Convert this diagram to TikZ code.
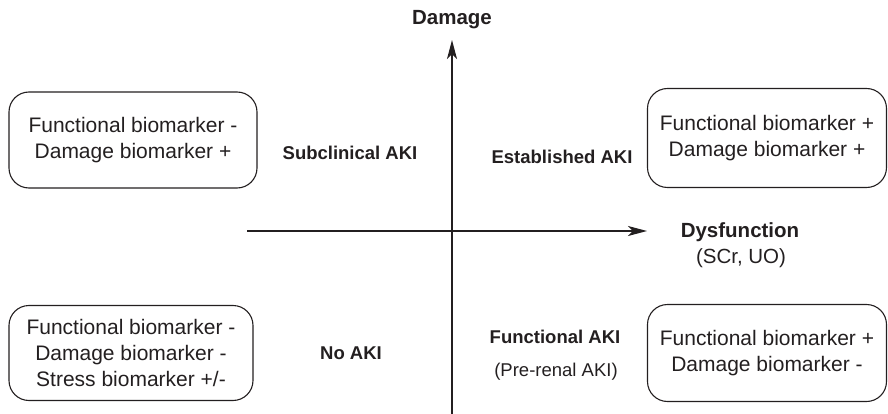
\documentclass[tikz,border=0pt]{standalone}
\usepackage{fontspec}
\setmainfont{Liberation Sans}
\usetikzlibrary{positioning,arrows.meta,calc}
\definecolor{InkGray}{RGB}{35,31,32}

\begin{document}
\begin{tikzpicture}[x=1pt,y=-1pt, every node/.style={text=InkGray, align=center},
    markerbox/.style={draw=InkGray, line width=1.1pt, rounded corners=20pt,
        font=\fontsize{21}{26}\selectfont},
    quadlabel/.style={font=\fontsize{18.5}{22}\selectfont\bfseries},
    quadnote/.style={font=\fontsize{18.5}{22}\selectfont},
    axislabel/.style={font=\fontsize{20.5}{24}\selectfont\bfseries},
    axis/.style={draw=InkGray, line width=1.3pt, -{Stealth[length=19pt,width=10pt,inset=5pt]}}]
  \useasboundingbox (0,0) rectangle (888,414);
  % axes
  \coordinate (xs) at (247,231);
  \coordinate (xe) at (647,231);
  \coordinate (ys) at (452,414);
  \coordinate (ye) at (452,40);
  \draw[axis] (xs) -- (xe);
  \draw[axis] (ys) -- (ye);
  \node[axislabel] (dmg) at (452,20) {Damage};
  \node[axislabel] (dys) at (740,232) {Dysfunction};
  \node[axislabel, font=\fontsize{20.5}{24}\selectfont] (dysu) at (741,258) {(SCr, UO)};
  % quadrant boxes
  \node[markerbox, minimum width=248pt, minimum height=96pt] (tl) at (133,140)
    {Functional biomarker -\\Damage biomarker +};
  \node[markerbox, minimum width=239pt, minimum height=99pt] (tr) at (767,138)
    {Functional biomarker +\\Damage biomarker +};
  \node[markerbox, minimum width=244pt, minimum height=95pt] (bl) at (131,353)
    {Functional biomarker -\\Damage biomarker -\\Stress biomarker +/-};
  \node[markerbox, minimum width=239pt, minimum height=97pt] (br) at (767,353)
    {Functional biomarker +\\Damage biomarker -};
  % quadrant names
  \node[quadlabel] (sub) at (350,153) {Subclinical AKI};
  \node[quadlabel] (est) at (562,157) {Established AKI};
  \node[quadlabel] (noaki) at (351,353) {No AKI};
  \node[quadlabel] (fun) at (555,337) {Functional AKI};
  \node[quadnote] (pre) at (556,372) {(Pre-renal AKI)};
\end{tikzpicture}
\end{document}
